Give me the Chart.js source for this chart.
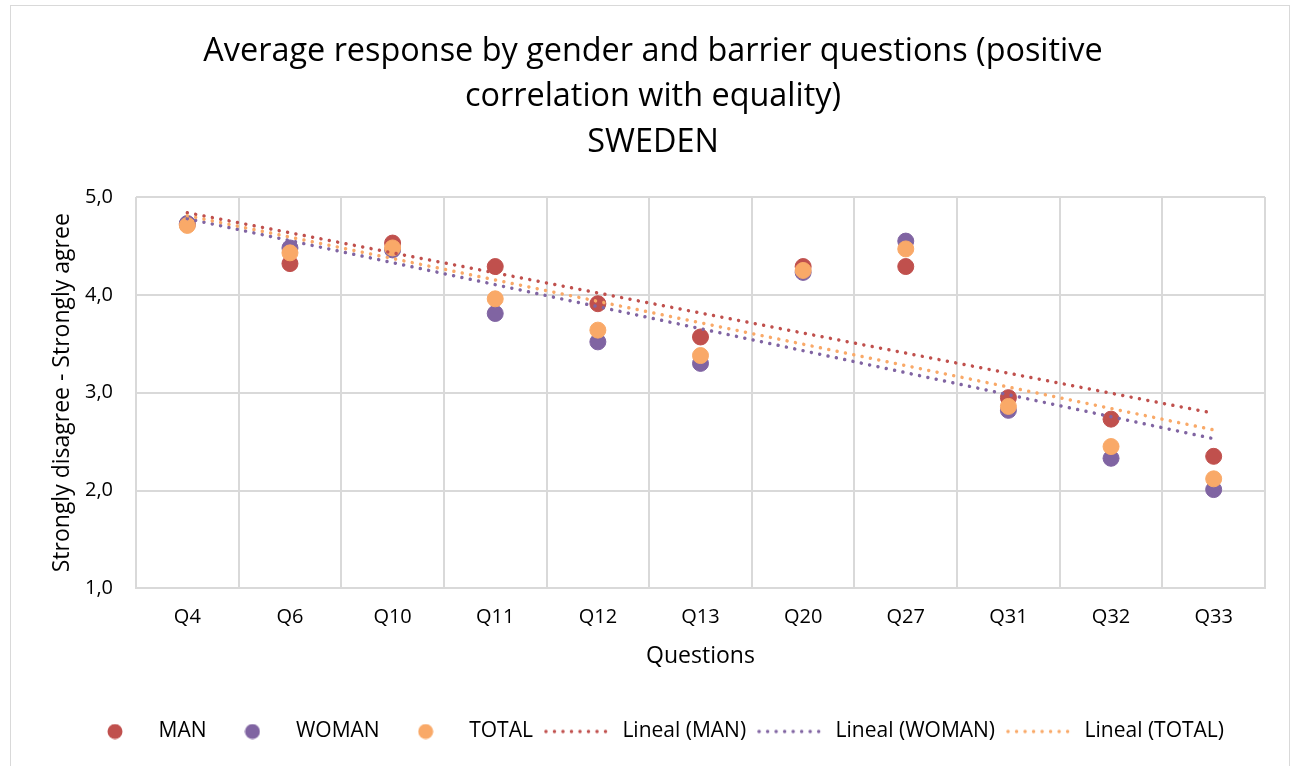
<!DOCTYPE html>
<html>
<head>
<meta charset="utf-8">
<script src="https://cdn.jsdelivr.net/npm/chart.js@4/dist/chart.umd.min.js"></script>
<style>
  body { margin: 0; background: #fff; }
  #wrap { position: absolute; left: 10px; top: 5px; width: 1280px; height: 800px; border: 1px solid #d9d9d9; box-sizing: border-box; }
  #box { position: relative; width: 1278px; height: 760px; }
</style>
</head>
<body>
<div id="wrap"><div id="box"><canvas id="chart"></canvas></div></div>
<script>
// questions on the x axis
var questions = ['Q4', 'Q6', 'Q10', 'Q11', 'Q12', 'Q13', 'Q20', 'Q27', 'Q31', 'Q32', 'Q33'];

// average answers
var man   = [4.72, 4.32, 4.53, 4.29, 3.91, 3.57, 4.29, 4.29, 2.95, 2.73, 2.35];
var woman = [4.73, 4.48, 4.46, 3.81, 3.52, 3.30, 4.23, 4.55, 2.82, 2.33, 2.01];
var total = [4.71, 4.43, 4.48, 3.96, 3.64, 3.38, 4.25, 4.47, 2.86, 2.45, 2.12];

// trend line ends (Q4 -> Q33), as drawn in the picture
var trendMan   = [4.84, 2.79];
var trendWoman = [4.78, 2.53];
var trendTotal = [4.81, 2.62];

var yTicks = [1, 2, 3, 4, 5];

var RED = '#C0504D', PURPLE = '#8064A2', ORANGE = '#F9A968';
var FONT = "'Open Sans'";

function pts(vals) {
  return vals.map(function(v, i) { return { x: questions[i], y: v }; });
}
function trend(ends) {
  return [{ x: questions[0], y: ends[0] }, { x: questions[questions.length - 1], y: ends[1] }];
}

// little canvases used as legend symbols
function dotIcon(color) {
  var c = document.createElement('canvas');
  c.width = 16; c.height = 16;
  var g = c.getContext('2d');
  g.fillStyle = color;
  g.beginPath(); g.arc(8, 8, 7.5, 0, Math.PI * 2); g.fill();
  return c;
}
function lineIcon(color) {
  var c = document.createElement('canvas');
  c.width = 70; c.height = 6;
  var g = c.getContext('2d');
  g.strokeStyle = color; g.lineWidth = 3.5; g.lineCap = 'round';
  g.setLineDash([0.01, 8.5]);
  g.beginPath(); g.moveTo(2, 3); g.lineTo(69, 3); g.stroke();
  return c;
}

function markerSet(label, vals, color, order) {
  return {
    label: label, data: pts(vals), showLine: false, order: order,
    pointRadius: 8, pointHoverRadius: 8, pointBackgroundColor: color, pointBorderColor: color,
    backgroundColor: color, borderColor: color, icon: dotIcon(color)
  };
}
function trendSet(label, ends, color, order) {
  return {
    label: label, data: trend(ends), showLine: true, order: order,
    pointRadius: 0, borderColor: color, backgroundColor: color,
    borderWidth: 3.5, borderDash: [0.01, 8.5], borderCapStyle: 'round', fill: false,
    icon: lineIcon(color)
  };
}

var config = {
  type: 'line',
  data: {
    labels: questions,
    datasets: [
      markerSet('MAN', man, RED, 6),
      markerSet('WOMAN', woman, PURPLE, 5),
      markerSet('TOTAL', total, ORANGE, 4),
      trendSet('Lineal (MAN)', trendMan, RED, 3),
      trendSet('Lineal (WOMAN)', trendWoman, PURPLE, 2),
      trendSet('Lineal (TOTAL)', trendTotal, ORANGE, 1)
    ]
  },
  options: {
    responsive: true,
    maintainAspectRatio: false,
    animation: false,
    layout: { padding: { left: 30, right: 24, top: 23, bottom: 14 } },
    plugins: {
      title: {
        display: true,
        text: ['Average response by gender and barrier questions (positive', 'correlation with equality)', 'SWEDEN'],
        color: '#000',
        font: { family: FONT, size: 32.4, weight: 'normal', lineHeight: 1.4 },
        padding: { top: 0, bottom: 32 }
      },
      legend: {
        position: 'bottom',
        labels: {
          color: '#000',
          font: { family: FONT, size: 21 },
          usePointStyle: true,
          pointStyleWidth: 66,
          padding: 13,
          generateLabels: function(chart) {
            return chart.data.datasets.map(function(ds, i) {
              return {
                text: ds.label,
                datasetIndex: i,
                fillStyle: ds.borderColor,
                strokeStyle: ds.borderColor,
                fontColor: '#000',
                lineWidth: 0,
                pointStyle: ds.icon,
                hidden: false
              };
            });
          }
        }
      },
      tooltip: { enabled: false }
    },
    scales: {
      x: {
        type: 'category',
        offset: true,
        grid: { offset: true, color: '#d9d9d9', lineWidth: 2, drawTicks: false },
        border: { color: '#d9d9d9', width: 2 },
        ticks: { color: '#000', font: { family: FONT, size: 20 }, padding: 17 },
        title: { display: true, text: 'Questions', color: '#000', font: { family: FONT, size: 23 }, padding: { top: -4, bottom: 38 } }
      },
      y: {
        min: 1, max: 5,
        afterBuildTicks: function(axis) { axis.ticks = yTicks.map(function(v) { return { value: v }; }); },
        afterFit: function(axis) { axis.width = 95; },
        grid: { color: '#d9d9d9', lineWidth: 2, drawTicks: false },
        border: { display: false },
        ticks: {
          color: '#000', font: { family: FONT, size: 20 }, padding: 23,
          callback: function(v) { return v.toFixed(1).replace('.', ','); }
        },
        title: { display: true, text: 'Strongly disagree - Strongly agree', color: '#000', font: { family: FONT, size: 23 }, padding: { top: 8, bottom: 8 } }
      }
    }
  }
};

var chart = new Chart(document.getElementById('chart'), config);
</script>
</body>
</html>
